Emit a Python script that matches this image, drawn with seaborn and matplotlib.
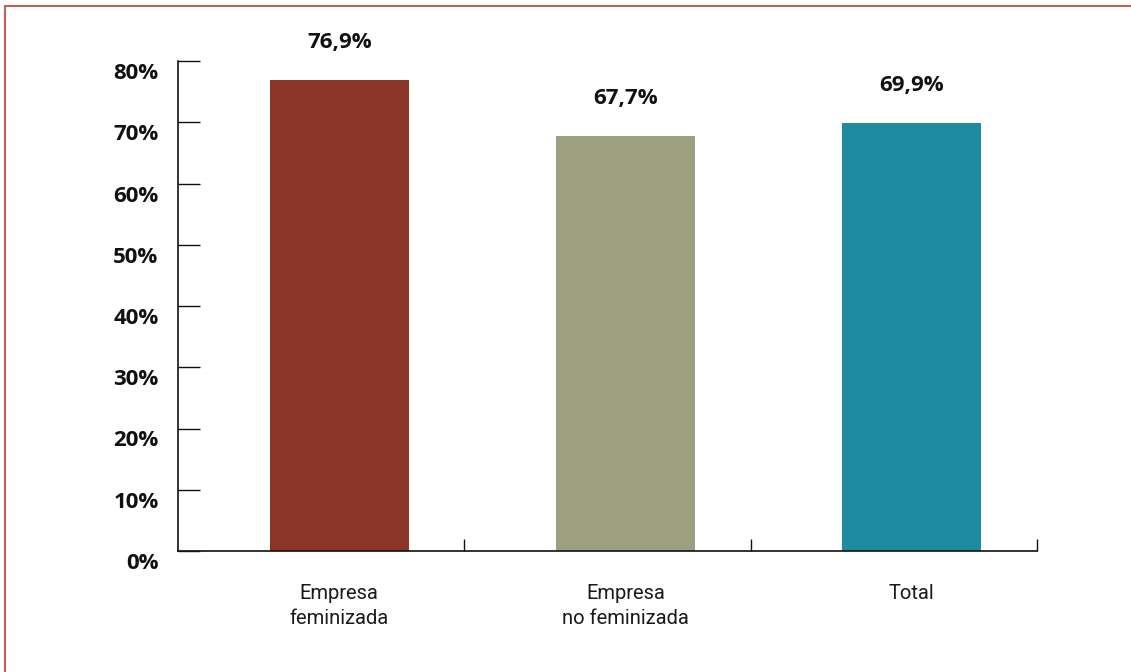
import matplotlib
matplotlib.use("Agg")
import matplotlib.pyplot as plt
import matplotlib.transforms as mtransforms
from matplotlib.lines import Line2D
import seaborn as sns
import pandas as pd

categories = ["Empresa\nfeminizada", "Empresa\nno feminizada", "Total"]
values = [76.9, 67.7, 69.9]
value_labels = ["76,9%", "67,7%", "69,9%"]
y_ticks = [0, 10, 20, 30, 40, 50, 60, 70, 80]
y_tick_labels = ["0%", "10%", "20%", "30%", "40%", "50%", "60%", "70%", "80%"]
colors = ["#8B3428", "#9CA080", "#1F8BA0"]

sns.set_theme(style="white")
plt.rcParams["font.family"] = ["Open Sans", "DejaVu Sans"]

df = pd.DataFrame({"cat": categories, "val": values})

fig = plt.figure(figsize=(11.31, 6.72), dpi=100)
ax = fig.add_axes([178/1131, 1-551/672, (1037-178)/1131, (551-61)/672])

sns.barplot(data=df, x="cat", y="val", hue="cat", palette=colors, width=0.486,
            legend=False, ax=ax, saturation=1, linewidth=0)

d = 0.063
ax.set_xlim(-0.5 - d, 2.5 - d)
ax.set_ylim(0, 80)
ax.set_xlabel("")
ax.set_ylabel("")

for s in ["top", "right"]:
    ax.spines[s].set_visible(False)
for s in ["left", "bottom"]:
    ax.spines[s].set_color("#111111")
    ax.spines[s].set_linewidth(1.2)

ax.set_yticks(y_ticks)
ax.set_yticklabels(y_tick_labels, fontsize=16, fontweight="bold", color="#111111")
ax.tick_params(axis="y", direction="in", length=16, width=1.0, color="#111111", pad=14, left=True)
offset = mtransforms.ScaledTranslation(0, -10/100, fig.dpi_scale_trans)
for lbl in ax.get_yticklabels():
    lbl.set_transform(lbl.get_transform() + offset)

ax.set_xticks([0, 1, 2])
ax.set_xticklabels(categories, fontsize=14.5, color="#1a1a1a", fontweight="normal",
                   family=["Roboto", "DejaVu Sans"], linespacing=1.4)
ax.tick_params(axis="x", which="major", length=0, pad=24)
ax.set_xticks([0.5 - d, 1.5 - d, 2.5 - d], minor=True)
ax.tick_params(axis="x", which="minor", direction="in", length=8.5, width=1.0,
               color="#111111", bottom=True)

for i, (v, t) in enumerate(zip(values, value_labels)):
    ax.annotate(t, (i, v), xytext=(0, 27), textcoords="offset points",
                ha="center", va="center", fontsize=16, fontweight="bold", color="#111111")

border = "#C0605A"
fig.add_artist(Line2D([5/1131, 1], [1-6/672, 1-6/672], transform=fig.transFigure, color=border, lw=1.5))
fig.add_artist(Line2D([5/1131, 5/1131], [0, 1-6/672], transform=fig.transFigure, color=border, lw=1.5))

fig.savefig("out.png", dpi=100)
